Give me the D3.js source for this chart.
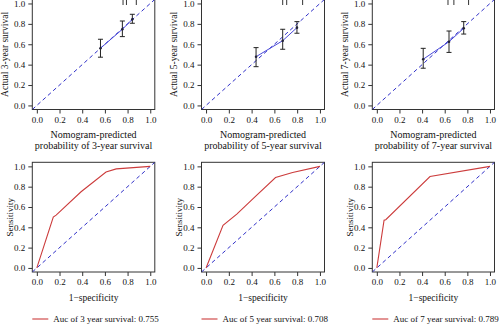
<!DOCTYPE html>
<html><head><meta charset="utf-8">
<script src="https://cdn.jsdelivr.net/npm/d3@7"></script>
<style>body{margin:0;background:#fff}svg{display:block}text{font-family:"Liberation Serif","Times New Roman",serif;fill:#111}</style>
</head><body><svg id="c" width="500" height="324"></svg>
<script>
// ---- data ----
const tickValues = [0, 0.2, 0.4, 0.6, 0.8, 1.0];
const years = ["3", "5", "7"];
const calPred3 = [0.561, 0.754, 0.842];
const calObs3  = [0.561, 0.747, 0.845];
const calLo3   = [0.473, 0.675, 0.806];
const calHi3   = [0.649, 0.828, 0.894];
const calPred5 = [0.439, 0.673, 0.798];
const calObs5  = [0.478, 0.635, 0.763];
const calLo5   = [0.380, 0.551, 0.708];
const calHi5   = [0.567, 0.747, 0.822];
const calPred7 = [0.410, 0.638, 0.768];
const calObs7  = [0.453, 0.625, 0.757];
const calLo7   = [0.365, 0.520, 0.700];
const calHi7   = [0.560, 0.730, 0.822];
const rug3 = [0.76, 0.79, 0.877];
const rug5 = [0.673, 0.708, 0.848];
const rug7 = [0.629, 0.681, 0.811];
const rocFpr3 = [0, 0.145, 0.17, 0.39, 0.61, 0.70, 1];
const rocTpr3 = [0, 0.50, 0.52, 0.75, 0.945, 0.975, 1];
const rocFpr5 = [0, 0.149, 0.27, 0.42, 0.61, 0.76, 1];
const rocTpr5 = [0, 0.42, 0.53, 0.69, 0.89, 0.94, 1];
const rocFpr7 = [0, 0.064, 0.079, 0.47, 1];
const rocTpr7 = [0, 0.47, 0.475, 0.90, 1];
const aucs = ["0.755", "0.708", "0.789"];

const cal = [
  {pred: calPred3, obs: calObs3, lo: calLo3, hi: calHi3, rug: rug3},
  {pred: calPred5, obs: calObs5, lo: calLo5, hi: calHi5, rug: rug5},
  {pred: calPred7, obs: calObs7, lo: calLo7, hi: calHi7, rug: rug7}
];
const roc = [
  {fpr: rocFpr3, tpr: rocTpr3},
  {fpr: rocFpr5, tpr: rocTpr5},
  {fpr: rocFpr7, tpr: rocTpr7}
];

// ---- layout ----
const colX = [[32.3, 154.8], [201.5, 324.5], [372.3, 494.5]];
const topY = [109.5, -0.6];
const botY = [272, 162.3];
const dom = [-0.04, 1.04];
const blue = "#3030c8", red = "#cc3c3c";
const svg = d3.select("#c");
svg.append("rect").attr("width", 500).attr("height", 324).attr("fill", "#fff");

function panel(i, yr, id) {
  const x = d3.scaleLinear().domain(dom).range(colX[i]);
  const y = d3.scaleLinear().domain(dom).range(yr);
  const g = svg.append("g");
  g.append("clipPath").attr("id", id).append("rect")
    .attr("x", colX[i][0]).attr("y", yr[1]).attr("width", colX[i][1] - colX[i][0]).attr("height", yr[0] - yr[1]);
  const fmt = d3.format(".1f");
  const xa = g.append("g").attr("transform", `translate(0,${yr[0]})`)
    .call(d3.axisBottom(x).tickValues(tickValues).tickFormat(fmt).tickSizeOuter(0).tickSize(4).tickPadding(3));
  const ya = g.append("g").attr("transform", `translate(${colX[i][0]},0)`)
    .call(d3.axisLeft(y).tickValues(tickValues).tickFormat(fmt).tickSizeOuter(0).tickSize(4).tickPadding(3));
  [xa, ya].forEach(a => {
    a.select(".domain").remove();
    a.selectAll("line").attr("stroke", "#333");
    a.selectAll("text").style("font-size", "9px").attr("fill", "#111");
  });
  g.append("rect").attr("x", colX[i][0]).attr("y", yr[1]).attr("width", colX[i][1] - colX[i][0]).attr("height", yr[0] - yr[1])
    .attr("fill", "none").attr("stroke", "#333").attr("stroke-width", 1);
  const inner = g.append("g").attr("clip-path", `url(#${id})`);
  inner.append("line").attr("x1", x(dom[0])).attr("y1", y(dom[0])).attr("x2", x(dom[1])).attr("y2", y(dom[1]))
    .attr("stroke", blue).attr("stroke-width", 1).attr("stroke-dasharray", "4,3");
  return {x, y, g: inner, outer: g};
}

for (let i = 0; i < 3; i++) {
  // calibration
  const p = panel(i, topY, "ct" + i);
  const c = cal[i];
  const pts = c.pred.map((d, k) => [d, c.obs[k]]);
  p.g.append("path").attr("d", d3.line().x(d => p.x(d[0])).y(d => p.y(d[1]))(pts))
    .attr("fill", "none").attr("stroke", "#4848d8").attr("stroke-width", 1);
  c.pred.forEach((d, k) => {
    const xx = p.x(d);
    p.g.append("line").attr("x1", xx).attr("x2", xx).attr("y1", p.y(c.lo[k])).attr("y2", p.y(c.hi[k])).attr("stroke", "#222").attr("stroke-width", 1);
    [c.lo[k], c.hi[k]].forEach(v => p.g.append("line").attr("x1", xx - 2.5).attr("x2", xx + 2.5).attr("y1", p.y(v)).attr("y2", p.y(v)).attr("stroke", "#222"));
    p.g.append("circle").attr("cx", xx).attr("cy", p.y(c.obs[k])).attr("r", 1.3).attr("fill", "#222238");
  });
  c.rug.forEach(d => {
    p.outer.append("line").attr("x1", p.x(d)).attr("x2", p.x(d)).attr("y1", 0).attr("y2", p.y(0.985)).attr("stroke", "#333").attr("stroke-width", 1);
  });
  const cx = (colX[i][0] + colX[i][1]) / 2;
  p.outer.append("text").attr("x", cx).attr("y", 137.5).attr("text-anchor", "middle").style("font-size", "10px").text("Nomogram-predicted");
  p.outer.append("text").attr("x", cx).attr("y", 149).attr("text-anchor", "middle").style("font-size", "10px").text(`probability of ${years[i]}-year survival`);
  p.outer.append("text").attr("transform", `translate(${colX[i][0] - 24.3},${(topY[0] + topY[1]) / 2}) rotate(-90)`)
    .attr("text-anchor", "middle").style("font-size", "9.5px").text(`Actual ${years[i]}-year survival`);

  // ROC
  const q = panel(i, botY, "cb" + i);
  const r = roc[i];
  const rp = r.fpr.map((d, k) => [d, r.tpr[k]]);
  q.g.append("path").attr("d", d3.line().x(d => q.x(d[0])).y(d => q.y(d[1]))(rp))
    .attr("fill", "none").attr("stroke", red).attr("stroke-width", 1.1);
  q.outer.append("text").attr("x", cx).attr("y", 300.5).attr("text-anchor", "middle").style("font-size", "9.5px").text("1\u2212specificity");
  q.outer.append("text").attr("transform", `translate(${colX[i][0] - 19.5},${(botY[0] + botY[1]) / 2}) rotate(-90)`)
    .attr("text-anchor", "middle").style("font-size", "9px").text("Sensitivity");
  // legend
  const lx = colX[i][0];
  q.outer.append("line").attr("x1", lx).attr("x2", lx + 16).attr("y1", 319).attr("y2", 319).attr("stroke", red).attr("stroke-width", 1.1);
  q.outer.append("text").attr("x", lx + 21).attr("y", 322).style("font-size", "9px").text(`Auc of ${years[i]} year survival: ${aucs[i]}`);
}
</script></body></html>
